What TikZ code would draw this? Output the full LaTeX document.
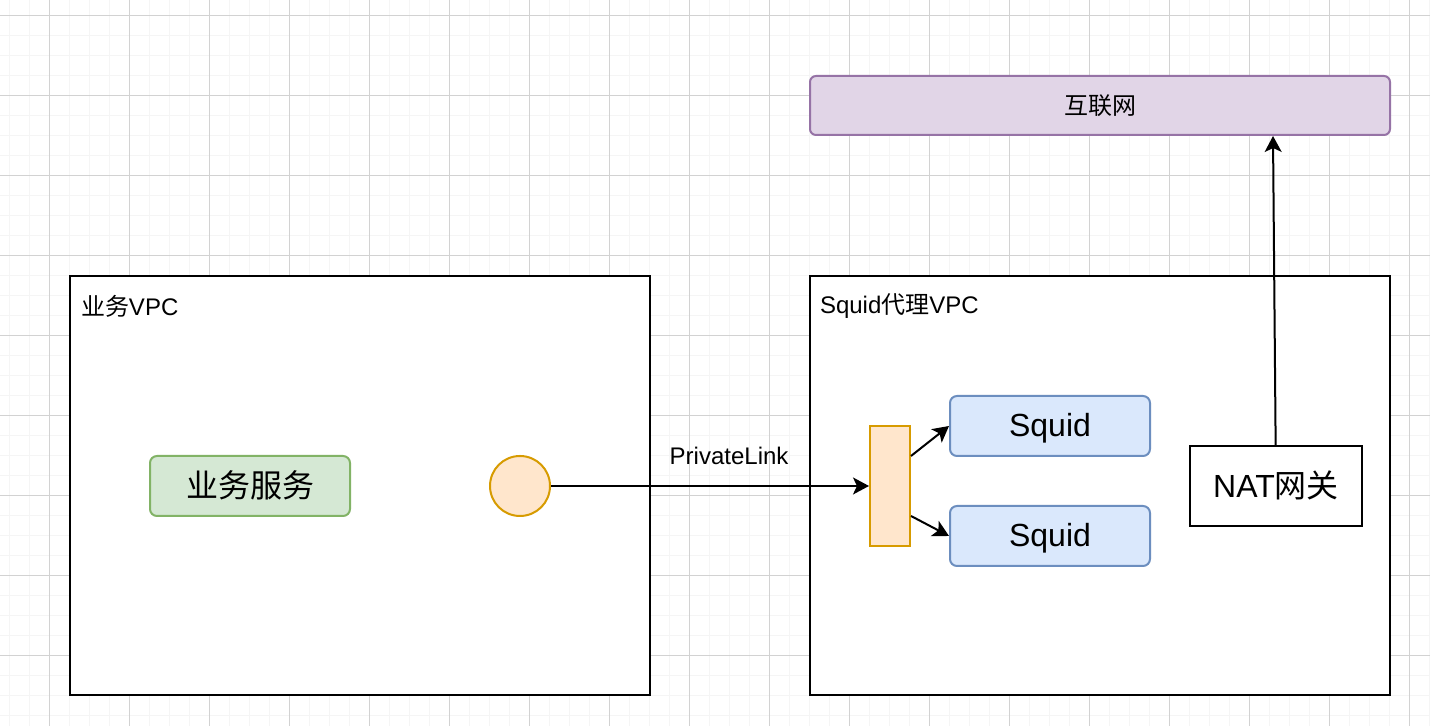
\documentclass[tikz,border=0pt]{standalone}
\usepackage{fontspec}
\setmainfont{Liberation Sans}
\newfontfamily\cjk{Noto Sans CJK SC}
\usetikzlibrary{arrows.meta,positioning}
\definecolor{netfill}{HTML}{E1D5E7}
\definecolor{netdraw}{HTML}{9673A6}
\definecolor{svcfill}{HTML}{D5E8D4}
\definecolor{svcdraw}{HTML}{82B366}
\definecolor{epfill}{HTML}{FFE6CC}
\definecolor{epdraw}{HTML}{D79B00}
\definecolor{sqfill}{HTML}{DAE8FC}
\definecolor{sqdraw}{HTML}{6C8EBF}
\definecolor{gridminor}{HTML}{F5F5F5}
\definecolor{gridmajor}{HTML}{D2D2D2}

\begin{document}
\begin{tikzpicture}[x=0.5pt,y=0.5pt,on grid,line width=1pt,>={Stealth[length=8pt,width=8.5pt,inset=2pt]},
	node font=\fontsize{12}{14}\selectfont,
	big/.style={font=\fontsize{16}{19}\selectfont,text depth=1.5pt},
	vpc/.style={draw,fill=white,minimum width=290pt,minimum height=209.5pt,inner sep=0pt},
	vpctext/.style={anchor=west,inner sep=0pt}]
	\tikzstyle{net}=[draw=netdraw,fill=netfill,rounded corners=3pt,minimum width=290pt,minimum height=29.5pt]
	\tikzstyle{svc}=[big,draw=svcdraw,fill=svcfill,rounded corners=3.5pt,minimum width=100pt,minimum height=30pt]
	\tikzstyle{ep}=[circle,draw=epdraw,fill=epfill,minimum size=30pt,inner sep=0pt]
	\tikzstyle{lb}=[draw=epdraw,fill=epfill,minimum width=20pt,minimum height=60pt,inner sep=0pt]
	\tikzstyle{squid}=[big,draw=sqdraw,fill=sqfill,rounded corners=3.5pt,minimum width=100pt,minimum height=30pt]
	\tikzstyle{nat}=[big,draw,minimum width=86pt,minimum height=40pt]
	
	\useasboundingbox (0,0) rectangle (1430,726);
	\fill[white] (0,0) rectangle (1430,726);
	\begin{scope}
		\clip (0,0) rectangle (1430,726);
		\draw[gridminor,line width=0.8pt,xshift=4.75pt,yshift=5.25pt,step=10pt] (-40,-40) grid (1460,760);
		\draw[gridmajor,line width=0.5pt,xshift=24.75pt,yshift=35.25pt,step=40pt] (-80,-80) grid (1480,800);
	\end{scope}
	
	\node[vpc]     (bizvpc)   at (360,240.5)  {};
	\node[vpc]     (sqvpc)    at (1100,240.5) {};
	\node[vpctext] (bizlabel) at ([xshift=5.5pt,yshift=-15.5pt]bizvpc.north west) {{\cjk 业务}VPC};
	\node[vpctext] (sqlabel)  at ([xshift=5pt,yshift=-15.5pt]sqvpc.north west)   {Squid{\cjk 代理}VPC};
	
	\node[net]   (net)    at (1100,620.5) {\cjk 互联网};
	\node[svc]   (svc)    at (250,240)    {\cjk 业务服务};
	\node[ep]    (ep)     at (520,240)    {};
	\node[lb]    (lb)     at (890,240)    {};
	\node[squid] (squid1) at (1050,300)   {Squid};
	\node[squid] (squid2) [below=55pt of squid1] {Squid};
	\node[nat]   (nat)    at (1276,240)   {NAT{\cjk 网关}};
	
	\path[->]
	(ep) edge node [pos=0.56,yshift=15pt] {PrivateLink} (lb)
	([yshift=15pt]lb.east) edge (squid1.west)
	([yshift=-15pt]lb.east) edge (squid2.west)
	(nat) edge ([xshift=86.5pt]net.south);
\end{tikzpicture}
\end{document}
